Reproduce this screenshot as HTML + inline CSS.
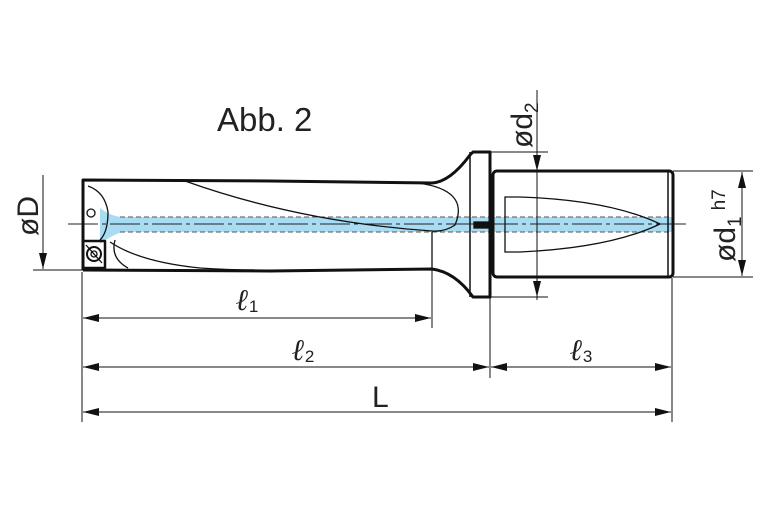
<!DOCTYPE html>
<html><head><meta charset="utf-8"><style>
html,body{margin:0;padding:0;background:#fff;}
svg{display:block;font-family:"Liberation Sans",sans-serif;}
</style></head><body>
<svg width="767" height="523" viewBox="0 0 767 523" xmlns="http://www.w3.org/2000/svg">
<defs>
<marker id="a" viewBox="0 0 16 8" refX="16" refY="4" markerWidth="16" markerHeight="8" orient="auto" markerUnits="userSpaceOnUse"><path d="M0,0 L16,4 L0,8 Z" fill="#111"/></marker>
</defs>
<text x="217" y="131" font-size="33" fill="#222">Abb. 2</text>
<rect x="110" y="217" width="563" height="15" fill="#a8dcf3"/>
<path d="M100,208 Q110,216 122,217 L122,232 Q110,236 100,244 Z" fill="#a8dcf3"/>
<line x1="120" y1="217" x2="673" y2="217" stroke="#555" stroke-width="1" stroke-dasharray="5,3"/>
<line x1="120" y1="232" x2="673" y2="232" stroke="#555" stroke-width="1" stroke-dasharray="5,3"/>
<line x1="68" y1="224" x2="690" y2="224" stroke="#222" stroke-width="1" stroke-dasharray="30,4,4,4"/>
<g fill="none" stroke="#111" stroke-width="3" stroke-linejoin="round">
<path d="M83,270 L83,180 L270,181 L432,183 Q450,182 470,155 L473,152 L490,152 L490,297 L473,297 Q455,272 432,269 L270,271 L83,270"/>
<line x1="470" y1="152" x2="470" y2="297" stroke-width="1.5"/>
<rect x="493" y="171" width="180" height="106" rx="4"/>
<line x1="668" y1="172" x2="668" y2="276" stroke-width="1.5"/>
<rect x="83" y="241" width="22" height="27" stroke-width="2.5"/>
</g>
<g fill="none" stroke="#111" stroke-width="1.3">
<path d="M185,181 Q300,222 432,231"/>
<path d="M110,242 Q140,262 200,268 Q230,270 255,270"/>
<path d="M115,240 Q110,258 128,268"/>
<path d="M418,183 Q470,190 455,225 Q445,232 432,231"/>
<line x1="432" y1="232" x2="432" y2="269"/>
<path d="M88,186 Q105,192 108,212 Q108,232 100,240"/>
<circle cx="91" cy="213" r="4"/>
<rect x="474" y="222" width="14" height="6" fill="#111"/>
<path d="M505,197 L520,197 Q610,200 660,224 Q610,248 520,252 L505,252 Z"/>
<circle cx="94" cy="254" r="7" stroke-width="2"/>
<circle cx="94" cy="254" r="3"/>
<line x1="86" y1="245" x2="102" y2="263"/>
</g>
<g stroke="#111" stroke-width="1" fill="none">
<line x1="43" y1="175" x2="43" y2="269" marker-end="url(#a)"/>
<line x1="33" y1="270" x2="83" y2="270"/>
<line x1="82" y1="272" x2="82" y2="422"/>
<line x1="432" y1="270" x2="432" y2="328"/>
<line x1="490" y1="297" x2="490" y2="378"/>
<line x1="672" y1="278" x2="672" y2="422"/>
<line x1="490" y1="152" x2="548" y2="152"/>
<line x1="490" y1="297" x2="548" y2="297"/>
<line x1="537" y1="90" x2="537" y2="300"/>
<line x1="537" y1="171" x2="537" y2="153" marker-end="url(#a)" transform="rotate(180 537 162)"/>
<line x1="537" y1="277" x2="537" y2="297" marker-end="url(#a)"/>
<line x1="673" y1="171" x2="753" y2="171"/>
<line x1="673" y1="277" x2="753" y2="277"/>
<line x1="742" y1="224" x2="742" y2="172" marker-end="url(#a)"/>
<line x1="742" y1="224" x2="742" y2="276" marker-end="url(#a)"/>
<line x1="257" y1="318" x2="83" y2="318" marker-end="url(#a)"/>
<line x1="257" y1="318" x2="431" y2="318" marker-end="url(#a)"/>
<line x1="286" y1="367" x2="83" y2="367" marker-end="url(#a)"/>
<line x1="286" y1="367" x2="489" y2="367" marker-end="url(#a)"/>
<line x1="580" y1="367" x2="491" y2="367" marker-end="url(#a)"/>
<line x1="580" y1="367" x2="671" y2="367" marker-end="url(#a)"/>
<line x1="377" y1="412" x2="83" y2="412" marker-end="url(#a)"/>
<line x1="377" y1="412" x2="671" y2="412" marker-end="url(#a)"/>
</g>
<g fill="#222">
<text transform="translate(38,236) rotate(-90)" font-size="30">øD</text>
<text transform="translate(532,148) rotate(-90)" font-size="30">ød<tspan font-size="19" dy="6">2</tspan></text>
<text transform="translate(735,262) rotate(-90)" font-size="30">ød<tspan font-size="19" dy="6">1</tspan><tspan font-size="19" dy="-16" dx="6">h7</tspan></text>
<text x="236" y="310" font-size="30" font-style="italic" font-weight="bold" font-family="Liberation Serif,serif">ℓ<tspan font-size="17" font-style="normal" font-weight="normal" font-family="Liberation Sans,sans-serif" dy="2">1</tspan></text>
<text x="292" y="360" font-size="30" font-style="italic" font-weight="bold" font-family="Liberation Serif,serif">ℓ<tspan font-size="17" font-style="normal" font-weight="normal" font-family="Liberation Sans,sans-serif" dy="2">2</tspan></text>
<text x="570" y="360" font-size="30" font-style="italic" font-weight="bold" font-family="Liberation Serif,serif">ℓ<tspan font-size="17" font-style="normal" font-weight="normal" font-family="Liberation Sans,sans-serif" dy="2">3</tspan></text>
<text x="372" y="407" font-size="30">L</text>
</g>
</svg>
</body></html>
